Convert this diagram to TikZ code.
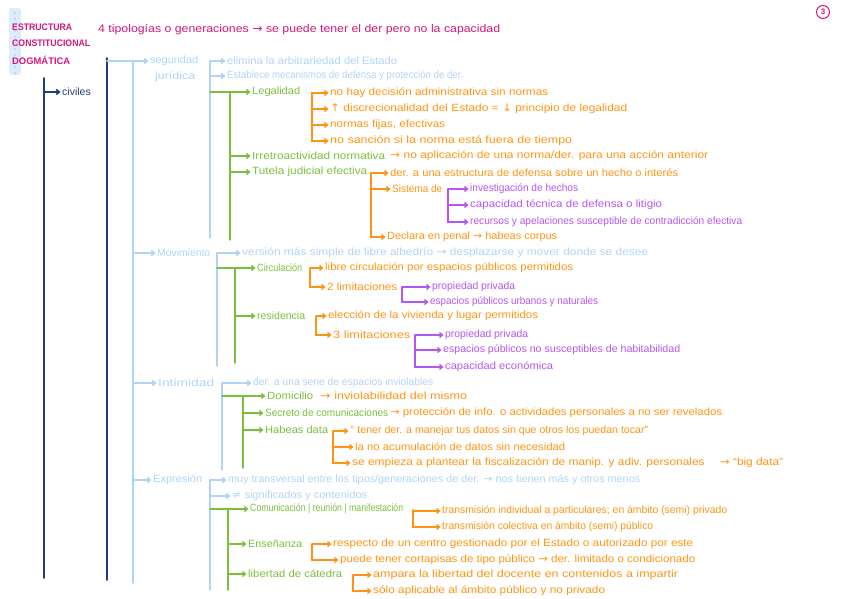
\documentclass[tikz,border=0pt]{standalone}
\usepackage{fontspec}
\usepackage{graphicx}
\setmainfont{Liberation Sans}
\newfontfamily\symf{DejaVu Sans}
\newcommand\rarr{{\symf →}}
\newcommand\uarr{{\symf ↑}}
\newcommand\darr{{\symf ↓}}
\newcommand\neqs{{\symf ≠}}
\newsavebox\tbox
\usetikzlibrary{arrows.meta}
\definecolor{lb}{RGB}{176,212,246}
\definecolor{nv}{RGB}{32,62,122}
\definecolor{gr}{RGB}{122,192,60}
\definecolor{org}{RGB}{255,148,20}
\definecolor{pu}{RGB}{182,86,240}
\definecolor{mg}{RGB}{214,22,122}
\begin{document}
\begin{tikzpicture}[x=1pt,y=-1pt,
  tw/.style={execute at begin node={\begin{lrbox}{\tbox}},
             execute at end node={\end{lrbox}\resizebox{#1pt}{\height}{\usebox{\tbox}}}},
  txt/.style={anchor=west,inner sep=0pt,font=\fontsize{10.5}{12}\selectfont},
  lbt/.style={txt,text=lb}, grt/.style={txt,text=gr}, ort/.style={txt,text=org},
  put/.style={txt,text=pu}, mgt/.style={txt,text=mg}, nvt/.style={txt,text=nv},
  tip/.style={-{Straight Barb[length=3pt,width=5pt]},shorten >=1.5pt},
  lbl/.style={draw=lb,line width=1.6pt,line cap=round},
  nvl/.style={draw=nv,line width=1.6pt,line cap=round},
  grl/.style={draw=gr,line width=1.4pt,line cap=round},
  orl/.style={draw=org,line width=1.3pt,line cap=round},
  pul/.style={draw=pu,line width=1.3pt,line cap=round}]
\useasboundingbox (0,0) rectangle (848,599);
% washi tape and header
\fill[lb!45,rounded corners=3pt] (9,8) rectangle (21,75);
\foreach \yy in {13,19,...,73} \fill[lb] (15,\yy) circle (1.1pt);
\node[mgt,font=\fontsize{9.5}{10}\selectfont\bfseries,tw=60] (h1) at (12,27) {ESTRUCTURA};
\node[mgt,font=\fontsize{9.5}{10}\selectfont\bfseries,tw=78] (h2) at (12,43) {CONSTITUCIONAL};
\node[mgt,font=\fontsize{9.5}{10}\selectfont\bfseries,tw=58] (h3) at (12,60) {DOGMÁTICA};
\node[mgt,font=\fontsize{11}{12}\selectfont,tw=402] (title) at (98,30) {4 tipologías o generaciones \rarr{} se puede tener el der pero no la capacidad};
\node[draw=mg,circle,text=mg,inner sep=1pt,minimum size=13pt,line width=1pt,font=\fontsize{8}{8}\selectfont\bfseries] (num) at (823,12) {3};
% navy trunks
\coordinate (n1t) at (44,78); \coordinate (n1b) at (44,578);
\draw[nvl] (n1t) -- (n1b);
\node[nvt] (civ) at (62,92) {civiles};
\draw[nvl,tip] (n1t |- civ.west) -- (civ.west);
\coordinate (n2t) at (107,58); \coordinate (n2b) at (107,580);
\draw[nvl] (n2t) -- (n2b);
% light blue trunk
\coordinate (l1t) at (133,61); \coordinate (l1b) at (133,583);
\draw[lbl] (l1t) -- (l1b);
\node[lbt,tw=48] (seg) at (150,61) {seguridad};
\node[lbt,tw=40] (jur) at (155,77) {jurídica};
\node[lbt,tw=53] (mov) at (157,253) {Movimiento};
\node[lbt,tw=56] (inti) at (158,383) {Intimidad};
\node[lbt,tw=49] (expr) at (153,480) {Expresión};
\draw[lbl,tip] (n2t |- seg.west) -- (seg.west);
\draw[lbl,tip] (l1t |- mov.west) -- (mov.west);
\draw[lbl,tip] (l1t |- inti.west) -- (inti.west);
\draw[lbl,tip] (l1t |- expr.west) -- (expr.west);
% ===== Seguridad
\coordinate (s2t) at (210,61); \coordinate (s2b) at (210,238);
\draw[lbl] (s2t) -- (s2b);
\node[lbt,tw=170] (eli) at (227,61) {elimina la arbitrariedad del Estado};
\node[lbt,tw=236] (est) at (227,76) {Establece mecanismos de defensa y protección de der.};
\draw[lbl,tip] (s2t |- eli.west) -- (eli.west);
\draw[lbl,tip] (s2t |- est.west) -- (est.west);
\node[grt,tw=48] (leg) at (252,92) {Legalidad};
\draw[grl,tip] (s2t |- leg.west) -- (leg.west);
\coordinate (g1t) at (230,92); \coordinate (g1b) at (230,240);
\draw[grl] (g1t) -- (g1b);
\node[grt,tw=133] (irr) at (252,156) {Irretroactividad normativa};
\node[grt,tw=115] (tut) at (252,172) {Tutela judicial efectiva};
\draw[grl,tip] (g1t |- irr.west) -- (irr.west);
\draw[grl,tip] (g1t |- tut.west) -- (tut.west);
\node[ort,tw=318] (irra) at (390,156) {\rarr{} no aplicación de una norma/der. para una acción anterior};
\coordinate (o1) at (312,93);
\node[ort,tw=218] (la) at (330,93) {no hay decisión administrativa sin normas};
\node[ort,tw=297] (lbb) at (330,109) {\uarr{} discrecionalidad del Estado = \darr{} principio de legalidad};
\node[ort,tw=115] (lc) at (330,125) {normas fijas, efectivas};
\node[ort,tw=242] (ld) at (330,141) {no sanción si la norma está fuera de tiempo};
\foreach \n in {la,lbb,lc,ld} \draw[orl,tip] (o1) |- (\n.west);
\coordinate (o2) at (371,173);
\node[ort,tw=288] (ta) at (390,173) {der. a una estructura de defensa sobre un hecho o interés};
\node[ort,tw=50] (tb) at (392,189) {Sistema de};
\node[ort,tw=170] (tc) at (387,237) {Declara en penal \rarr{} habeas corpus};
\foreach \n in {ta,tb,tc} \draw[orl,tip] (o2) |- (\n.west);
\coordinate (p1) at (448,189);
\node[put,tw=108] (sa) at (470,189) {investigación de hechos};
\node[put,tw=192] (sb) at (470,205) {capacidad técnica de defensa o litigio};
\node[put,tw=272] (sc) at (470,222) {recursos y apelaciones susceptible de contradicción efectiva};
\foreach \n in {sa,sb,sc} \draw[pul,tip] (p1) |- (\n.west);
% ===== Movimiento
\coordinate (m2t) at (217,253); \coordinate (m2b) at (217,366);
\draw[lbl] (m2t) -- (m2b);
\node[lbt,tw=406] (ver) at (242,253) {versión más simple de libre albedrío \rarr{} desplazarse y mover donde se desee};
\draw[lbl,tip] (m2t |- ver.west) -- (ver.west);
\node[grt,tw=45] (cir) at (257,268) {Circulación};
\draw[grl,tip] (m2t |- cir.west) -- (cir.west);
\coordinate (g2t) at (235,268); \coordinate (g2b) at (235,363);
\draw[grl] (g2t) -- (g2b);
\node[grt,tw=48] (res) at (257,316) {residencia};
\draw[grl,tip] (g2t |- res.west) -- (res.west);
\coordinate (o3) at (310,268);
\node[ort,tw=248] (ca) at (325,268) {libre circulación por espacios públicos permitidos};
\node[ort,tw=70] (cb) at (327,287) {2 limitaciones};
\foreach \n in {ca,cb} \draw[orl,tip] (o3) |- (\n.west);
\coordinate (p2) at (402,287);
\node[put,tw=83] (cc) at (432,287) {propiedad privada};
\node[put,tw=168] (cd) at (430,302) {espacios públicos urbanos y naturales};
\foreach \n in {cc,cd} \draw[pul,tip] (p2) |- (\n.west);
\coordinate (o4) at (316,316);
\node[ort,tw=210] (ra) at (328,316) {elección de la vivienda y lugar permitidos};
\node[ort,tw=77] (rb) at (333,335) {3 limitaciones};
\foreach \n in {ra,rb} \draw[orl,tip] (o4) |- (\n.west);
\coordinate (p3) at (415,335);
\node[put,tw=83] (rc) at (445,335) {propiedad privada};
\node[put,tw=237] (rd) at (443,350) {espacios públicos no susceptibles de habitabilidad};
\node[put,tw=108] (re) at (445,367) {capacidad económica};
\foreach \n in {rc,rd,re} \draw[pul,tip] (p3) |- (\n.west);
% ===== Intimidad
\coordinate (i2t) at (222,383); \coordinate (i2b) at (222,470);
\draw[lbl] (i2t) -- (i2b);
\node[lbt,tw=180] (ser) at (253,383) {der. a una serie de espacios inviolables};
\draw[lbl,tip] (i2t |- ser.west) -- (ser.west);
\node[grt,tw=46] (dom) at (267,396) {Domicilio};
\draw[grl,tip] (i2t |- dom.west) -- (dom.west);
\coordinate (g3t) at (243,396); \coordinate (g3b) at (243,468);
\draw[grl] (g3t) -- (g3b);
\node[grt,tw=123] (sec) at (265,413) {Secreto de comunicaciones};
\node[grt,tw=63] (hab) at (265,430) {Habeas data};
\draw[grl,tip] (g3t |- sec.west) -- (sec.west);
\draw[grl,tip] (g3t |- hab.west) -- (hab.west);
\node[ort,tw=147] (doma) at (320,396) {\rarr{} inviolabilidad del mismo};
\node[ort,tw=332] (seca) at (390,413) {\rarr{} protección de info. o actividades personales a no ser revelados};
\coordinate (o5) at (333,431);
\node[ort,tw=298] (ha) at (350,431) {° tener der. a manejar tus datos sin que otros los puedan tocar”};
\node[ort,tw=210] (hb) at (355,447) {la no acumulación de datos sin necesidad};
\node[ort,tw=431] (hc) at (352,463) {se empieza a plantear la fiscalización de manip. y adiv. personales \quad\rarr{} “big data”};
\foreach \n in {ha,hb,hc} \draw[orl,tip] (o5) |- (\n.west);
% ===== Expresión
\coordinate (e2t) at (210,480); \coordinate (e2b) at (210,590);
\draw[lbl] (e2t) -- (e2b);
\node[lbt,tw=412] (tra) at (228,480) {muy transversal entre los tipos/generaciones de der. \rarr{} nos tienen más y otros menos};
\node[lbt,tw=135] (sig) at (232,496) {\neqs{} significados y contenidos};
\draw[lbl,tip] (e2t |- tra.west) -- (tra.west);
\draw[lbl,tip] (e2t |- sig.west) -- (sig.west);
\node[grt,tw=153] (com) at (250,509) {Comunicación | reunión | manifestación};
\draw[grl,tip] (e2t |- com.west) -- (com.west);
\coordinate (g4t) at (228,509); \coordinate (g4b) at (228,590);
\draw[grl] (g4t) -- (g4b);
\node[grt,tw=54] (ens) at (248,544) {Enseñanza};
\node[grt,tw=94] (lib) at (248,574) {libertad de cátedra};
\draw[grl,tip] (g4t |- ens.west) -- (ens.west);
\draw[grl,tip] (g4t |- lib.west) -- (lib.west);
\coordinate (o6) at (413,510);
\node[ort,tw=285] (xa) at (442,511) {transmisión individual a particulares; en ámbito (semi) privado};
\node[ort,tw=211] (xb) at (442,527) {transmisión colectiva en ámbito (semi) público};
\foreach \n in {xa,xb} \draw[orl,tip] (o6) |- (\n.west);
\coordinate (o7) at (312,544);
\node[ort,tw=360] (ea) at (333,544) {respecto de un centro gestionado por el Estado o autorizado por este};
\node[ort,tw=355] (eb) at (340,560) {puede tener cortapisas de tipo público \rarr{} der. limitado o condicionado};
\foreach \n in {ea,eb} \draw[orl,tip] (o7) |- (\n.west);
\coordinate (o8) at (353,575);
\node[ort,tw=305] (ka) at (373,575) {ampara la libertad del docente en contenidos a impartir};
\node[ort,tw=232] (kb) at (373,591) {sólo aplicable al ámbito público y no privado};
\foreach \n in {ka,kb} \draw[orl,tip] (o8) |- (\n.west);
\end{tikzpicture}
\end{document}
